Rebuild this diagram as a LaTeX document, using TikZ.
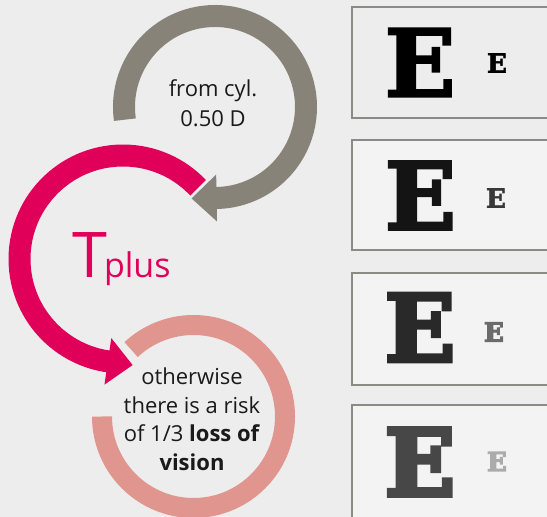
\documentclass[tikz,border=0pt]{standalone}
\usepackage{fontspec}
\setmainfont{Open Sans}
\newfontfamily\efontA{DejaVu Serif}[BoldFeatures={FakeBold=2.5}]
\newfontfamily\efontB{DejaVu Serif}[BoldFeatures={FakeBold=3.2}]
\newfontfamily\efontC{DejaVu Serif}[BoldFeatures={FakeBold=4}]
\newfontfamily\efontD{DejaVu Serif}[BoldFeatures={FakeBold=5}]
\usetikzlibrary{calc}
\definecolor{bg}{HTML}{EDEDED}
\definecolor{ringgray}{HTML}{878379}
\definecolor{magentaT}{HTML}{E0005A}
\definecolor{pinkring}{HTML}{E0968F}
\definecolor{boxline}{HTML}{8C8A84}
\definecolor{boxfill}{HTML}{F3F3F3}
\definecolor{txt}{HTML}{1A1A1A}
\tikzset{
  ebox/.style={draw=boxline, line width=1.8pt},
  bigEA/.style={inner sep=0pt, font=\efontA\bfseries\fontsize{93}{93}\selectfont},
  bigEB/.style={inner sep=0pt, font=\efontB\bfseries\fontsize{93}{93}\selectfont},
  bigEC/.style={inner sep=0pt, font=\efontC\bfseries\fontsize{93}{93}\selectfont},
  bigED/.style={inner sep=0pt, font=\efontD\bfseries\fontsize{92}{92}\selectfont},
  smallEA/.style={inner sep=0pt, font=\efontA\bfseries\fontsize{26}{26}\selectfont},
  smallEC/.style={inner sep=0pt, font=\efontD\bfseries\fontsize{26}{26}\selectfont},
  label/.style={align=center, text=txt, inner sep=0pt}
}
\begin{document}
\begin{tikzpicture}[x=1pt,y=1pt]
\useasboundingbox (0,0) rectangle (547,517);
\fill[bg] (0,0) rectangle (547,517);
\clip (0,0) rectangle (547,517);

\coordinate (G) at (215,410);
\coordinate (M) at (123,258);
\coordinate (P) at (193.5,100.5);

% gray ring with arrow
\draw[ringgray, line width=22pt] ($(G)+(188:91)$) arc[start angle=188, end angle=-89.5, radius=91];
\fill[ringgray] ($(G)+(-89:114.5)$) -- ($(G)+(-89:67.5)$) -- ($(G)+(-89:91)+(-179:25)$) -- cycle;

% magenta ring with arrow
\draw[magentaT, line width=22pt] ($(M)+(43.5:103.5)$) arc[start angle=43.5, end angle=262, radius=103.5];
\fill[magentaT] ($(M)+(261.6:127)$) -- ($(M)+(261.6:80)$) -- ($(M)+(261.6:103.5)+(351.6:25)$) -- cycle;

% pink ring
\draw[pinkring, line width=20pt] ($(P)+(180:91.5)$) arc[start angle=180, end angle=493, radius=91.5];

% texts
\node[label, font=\fontsize{22}{30}\selectfont] (from) at (213,414) {from cyl.\\0.50 D};
\node[text=magentaT, inner sep=0pt, anchor=base west] (tplus) at (72,239)
  {\fontsize{63}{63}\selectfont T\kern-3pt\fontsize{34}{34}\selectfont plus};
\node[label, font=\fontsize{22}{28.5}\selectfont] (risk) at (192,97.5)
  {otherwise\\there is a risk\\of 1/3 \textbf{loss of}\\\textbf{vision}};

% eye chart boxes
\draw[ebox, fill=bg] (352,399) rectangle (600,510);
\draw[ebox, fill=boxfill] (352,267) rectangle (600,377);
\draw[ebox, fill=boxfill] (352,132) rectangle (600,244);
\draw[ebox, fill=boxfill] (352,-20) rectangle (600,112);

\node[bigEA, text=black] (e1) at (420,454.5) {E};
\node[smallEA, text=black] (s1) at (497,454) {E};
\node[bigEB, text=black!92] (e2) at (420.5,321.5) {E};
\node[smallEA, text=black!78] (s2) at (496,319) {E};
\node[bigEC, text=black!84] (e3) at (420,189.5) {E};
\node[smallEC, text=black!58] (s3) at (494,185) {E};
\node[bigED, text=black!72] (e4) at (420,55) {E};
\node[smallEC, text=black!33] (s4) at (497,55.5) {E};
\end{tikzpicture}
\end{document}
